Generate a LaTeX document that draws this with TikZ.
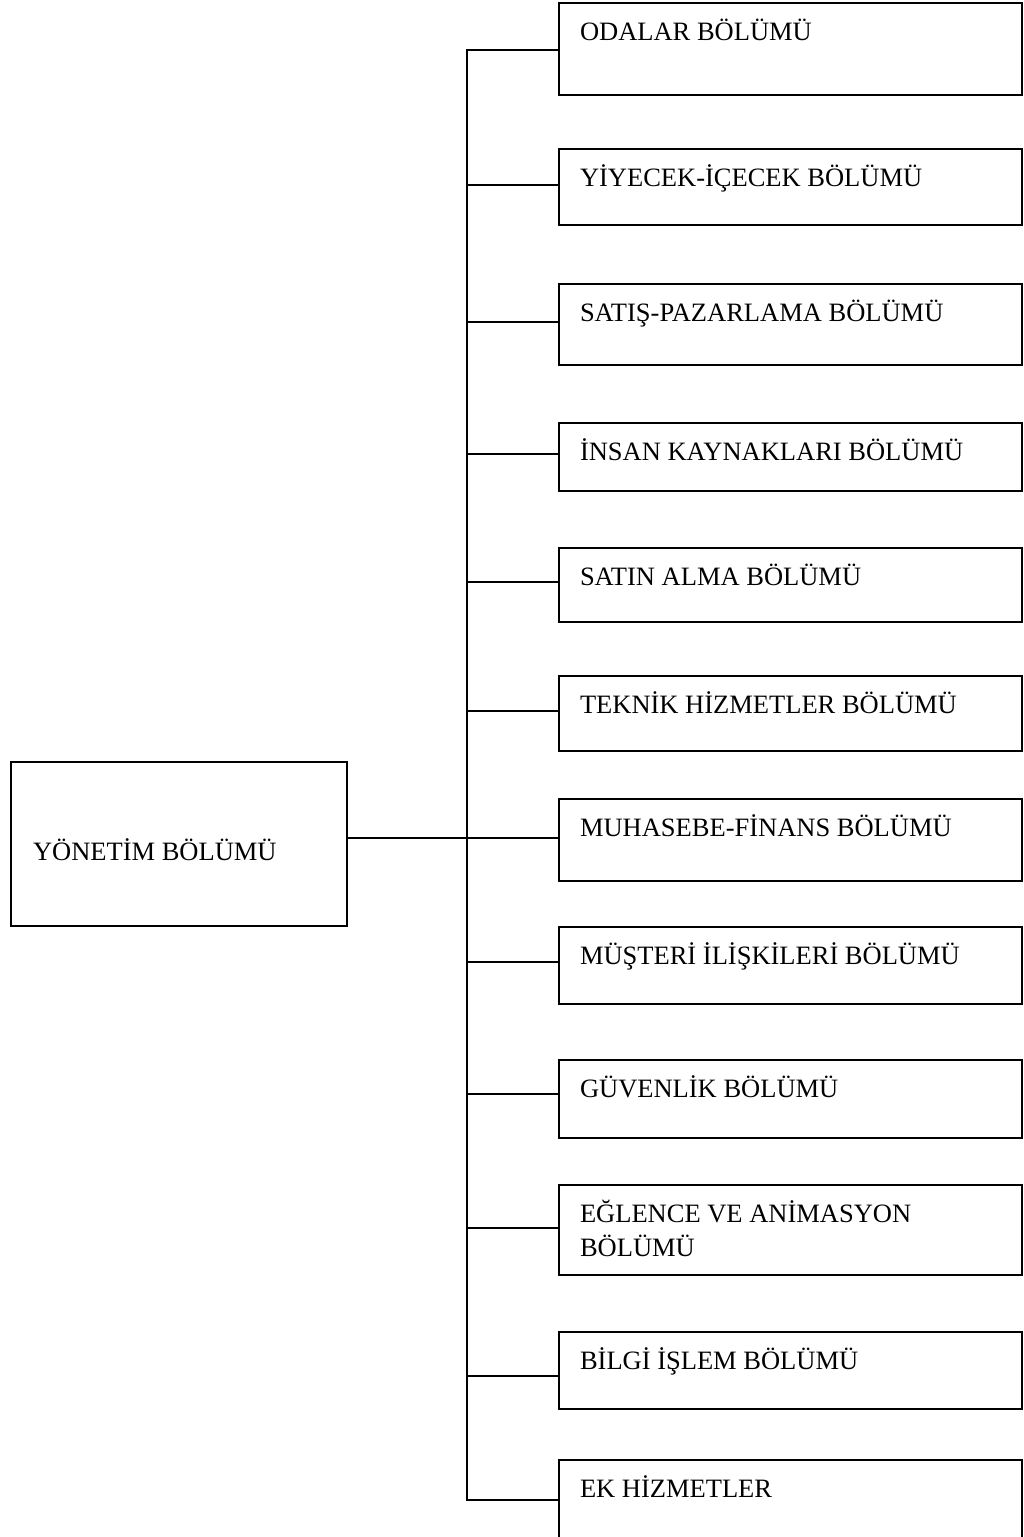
\documentclass[tikz,border=0pt]{standalone}
\usepackage{fontspec}
\setmainfont{Liberation Serif}
\usetikzlibrary{positioning}

\begin{document}
\begin{tikzpicture}[x=1pt,y=-1pt,line width=1.6pt,
	every node/.style={draw,rectangle,anchor=north west,inner sep=0pt,outer sep=0pt},
	mainnode/.style={minimum width=336pt,minimum height=164pt},
	deptnode/.style={minimum width=463pt},
	textnode/.style={draw=none,anchor=base west,font=\fontsize{26.5}{34}\selectfont},
	]
	\useasboundingbox (0,0) rectangle (1024,1537);
	\clip (0,0) rectangle (1024,1537);
	
	% the management box
	\node[mainnode] (yon) at (11,762) {};
	\node[textnode] (tyon) at ([xshift=22pt,yshift=-98pt]yon.north west) {YÖNETİM BÖLÜMÜ};
	
	% the departments
	\foreach \i/\top/\bot/\con/\txt in {
		1/3/95/50/{ODALAR BÖLÜMÜ},
		2/149/225/185/{YİYECEK-İÇECEK BÖLÜMÜ},
		3/284/365/322/{SATIŞ-PAZARLAMA BÖLÜMÜ},
		4/423/491/454/{İNSAN KAYNAKLARI BÖLÜMÜ},
		5/548/622/582/{SATIN ALMA BÖLÜMÜ},
		6/676/751/711/{TEKNİK HİZMETLER BÖLÜMÜ},
		7/799/881/838/{MUHASEBE-FİNANS BÖLÜMÜ},
		8/927/1004/962/{MÜŞTERİ İLİŞKİLERİ BÖLÜMÜ},
		9/1060/1138/1094/{GÜVENLİK BÖLÜMÜ},
		10/1185/1275/1228/{\vtop{\hbox{EĞLENCE VE ANİMASYON}\hbox{BÖLÜMÜ}}},
		11/1332/1409/1376/{BİLGİ İŞLEM BÖLÜMÜ},
		12/1460/1580/1500/{EK HİZMETLER}}
	{
	\pgfmathsetmacro\h{\bot-\top}
	\node[deptnode,minimum height=\h pt] (d\i) at (559,\top) {};
	\node[textnode] (t\i) at ([xshift=21pt,yshift=-37pt]d\i.north west) {\txt};
	\coordinate (j\i) at (467,\con);
	}
	
	% the edges
	\draw (j1 -| d1.west) -- (j1) -- (j12) -- (j12 -| d12.west);
	\foreach \i in {2,...,11}
	\draw (j\i) -- (j\i -| d\i.west);
	\draw (yon.east |- j7) -- (j7);
\end{tikzpicture}
\end{document}
